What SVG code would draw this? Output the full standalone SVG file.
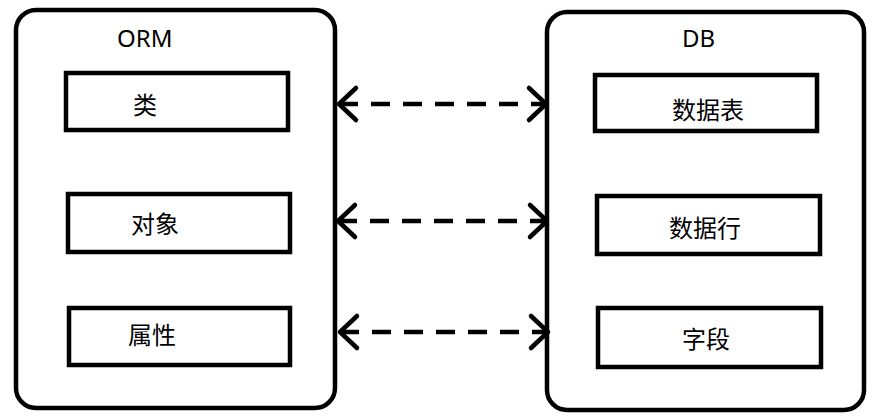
<svg xmlns="http://www.w3.org/2000/svg" width="875" height="416" viewBox="0 0 875 416">
  <style>
    .panel { fill: #fff; stroke: #000; stroke-width: 4.5; }
    .item { fill: #fff; stroke: #000; stroke-width: 4.5; }
    .label { font-family: "Noto Sans CJK SC", "Noto Sans", sans-serif; font-size: 24px; fill: #000; }
    .title { font-family: "Noto Sans", "Noto Sans CJK SC", sans-serif; font-size: 24px; fill: #000; }
    .link { fill: none; stroke: #000; stroke-width: 4.5; stroke-dasharray: 19 13; marker-start: url(#chev); marker-end: url(#chev); }
  </style>
  <defs>
    <marker id="chev" markerUnits="userSpaceOnUse" viewBox="-24 -22 28 44" markerWidth="28" markerHeight="44" refX="0" refY="0" orient="auto-start-reverse">
      <path d="M-17,-16 L0,0 L-17,16" fill="none" stroke="#000" stroke-width="4.5" stroke-linecap="round" stroke-linejoin="round"/>
    </marker>
  </defs>

  <rect width="875" height="416" fill="#fff"/>

  <!-- ORM side -->
  <g id="orm">
    <rect class="panel" x="16" y="10" width="319" height="398" rx="20"/>
    <text class="title" x="117" y="47">ORM</text>
  </g>
  <g id="orm-class">
    <rect class="item" x="66" y="73" width="222" height="57"/>
    <text class="label" x="133" y="114">类</text>
  </g>
  <g id="orm-object">
    <rect class="item" x="68" y="194" width="222" height="58"/>
    <text class="label" x="131" y="233">对象</text>
  </g>
  <g id="orm-attribute">
    <rect class="item" x="69" y="308" width="221" height="57"/>
    <text class="label" x="128" y="344">属性</text>
  </g>

  <!-- DB side -->
  <g id="db">
    <rect class="panel" x="547" y="12" width="317" height="398" rx="20"/>
    <text class="title" x="682" y="47">DB</text>
  </g>
  <g id="db-table">
    <rect class="item" x="595" y="75" width="222" height="56"/>
    <text class="label" x="672" y="119">数据表</text>
  </g>
  <g id="db-row">
    <rect class="item" x="597" y="196" width="223" height="58"/>
    <text class="label" x="669" y="237">数据行</text>
  </g>
  <g id="db-field">
    <rect class="item" x="598" y="308" width="223" height="59"/>
    <text class="label" x="682" y="348">字段</text>
  </g>

  <!-- two-way mappings -->
  <g id="connectors">
    <path class="link" d="M339,104 L546,104"/>
    <path class="link" d="M338,221 L547,221"/>
    <path class="link" d="M340,332 L548,332"/>
  </g>
</svg>
